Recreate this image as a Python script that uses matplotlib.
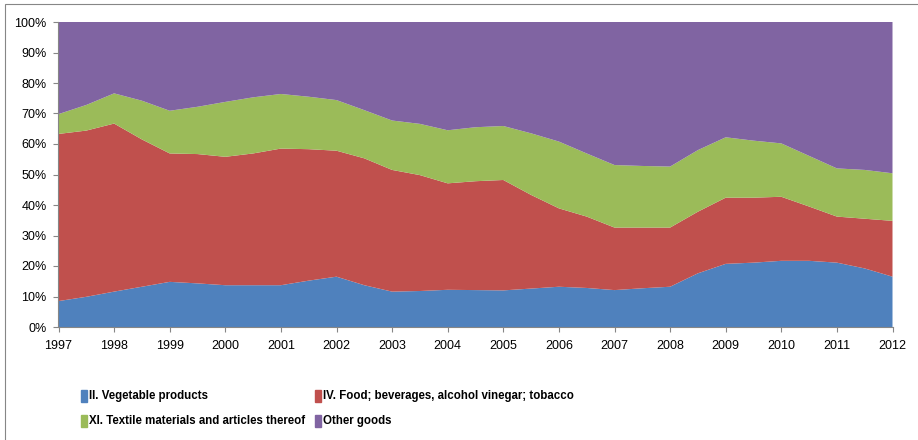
"""Share of export product groups, 1997-2012, as a 100% stacked area chart."""

import matplotlib

matplotlib.use("Agg")
import matplotlib.pyplot as plt
from matplotlib.patches import Rectangle
from matplotlib.ticker import FuncFormatter, MultipleLocator
import numpy as np

# half-year points
years = [1997 + 0.5 * i for i in range(31)]
vegetable = [8.5, 9.9, 11.6, 13.2, 14.8, 14.3, 13.7, 13.7, 13.7, 15.2, 16.5,
             13.7, 11.6, 11.8, 12.2, 12.1, 12.0, 12.6, 13.2, 12.8, 12.1, 12.7,
             13.2, 17.6, 20.7, 21.1, 21.7, 21.7, 21.1, 19.2, 16.5]
food = [54.8, 54.5, 55.1, 48.3, 42.1, 42.4, 42.1, 43.2, 44.8, 43.1, 41.3,
        41.6, 39.9, 38.0, 34.9, 35.7, 36.2, 30.7, 25.7, 23.4, 20.5, 19.9,
        19.4, 20.2, 21.7, 21.3, 21.0, 17.8, 15.1, 16.3, 18.3]
textile = [6.5, 8.4, 9.9, 12.7, 14.0, 15.5, 18.0, 18.4, 17.9, 17.2, 16.6,
           15.8, 16.2, 16.8, 17.4, 17.7, 17.7, 20.2, 21.9, 20.7, 20.5, 20.2,
           20.0, 20.2, 19.8, 18.7, 17.5, 16.6, 15.8, 16.0, 15.6]
other = [30.2, 27.2, 23.4, 25.8, 29.1, 27.8, 26.2, 24.7, 23.6, 24.5, 25.6,
         28.9, 32.3, 33.4, 35.5, 34.5, 34.1, 36.5, 39.2, 43.1, 46.9, 47.2,
         47.4, 42.0, 37.8, 38.9, 39.8, 43.9, 48.0, 48.5, 49.6]

labels = [
    "II. Vegetable products",
    "IV. Food; beverages, alcohol vinegar; tobacco",
    "XI. Textile materials and articles thereof",
    "Other goods",
]
colors = ["#4F81BD", "#C0504D", "#9BBB59", "#8064A2"]

FONT = ["Liberation Sans", "DejaVu Sans"]

data = np.array([vegetable, food, textile, other], dtype=float)
shares = data / data.sum(axis=0) * 100

fig = plt.figure(figsize=(9.18, 4.4), dpi=100)
ax = fig.add_axes([58.5 / 918, 113 / 440, 834 / 918, 305 / 440])

ax.stackplot(years, shares, colors=colors, linewidth=0)

ax.set_xlim(1997, 2012)
ax.set_ylim(0, 100)
ax.xaxis.set_major_locator(MultipleLocator(1))
ax.yaxis.set_major_locator(MultipleLocator(10))
ax.yaxis.set_major_formatter(FuncFormatter(lambda v, _: f"{v:.0f}%"))
ax.xaxis.set_major_formatter(FuncFormatter(lambda v, _: f"{v:.0f}"))

for side in ("top", "right"):
    ax.spines[side].set_visible(False)
for side in ("left", "bottom"):
    ax.spines[side].set_color("#868686")
    ax.spines[side].set_linewidth(0.8)
ax.tick_params(axis="both", direction="out", color="#868686", length=3.5, width=0.8)
ax.tick_params(axis="y", labelsize=9, pad=5)
ax.tick_params(axis="x", labelsize=9, pad=6)
for lab in ax.get_xticklabels() + ax.get_yticklabels():
    lab.set_family(FONT)

# outer chart frame
fig.patches.append(Rectangle((5 / 918, -0.01), 1.0, 1 - 4 / 440 + 0.01,
                             transform=fig.transFigure, fill=False,
                             edgecolor="#868686", linewidth=0.8))

# legend laid out in two columns like the original
legend_pos = [(81, 396), (315, 396), (81, 421), (315, 421)]
for (px, py), label, color in zip(legend_pos, labels, colors):
    fig.patches.append(Rectangle((px / 918, (440 - py - 6) / 440), 6 / 918, 12 / 440,
                                 transform=fig.transFigure, color=color))
    fig.text((px + 8) / 918, (440 - py) / 440, label, fontsize=8.3,
             fontweight="bold", family=FONT, va="center", ha="left")

fig.savefig("out.png", dpi=100)
